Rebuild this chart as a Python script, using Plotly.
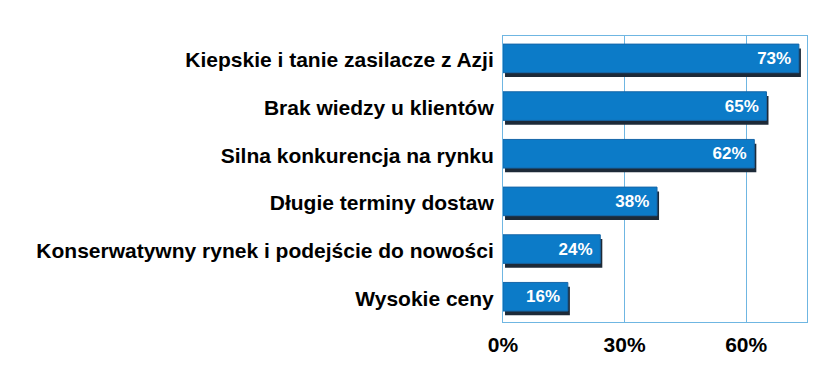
import plotly.graph_objects as go

categories = [
    "Kiepskie i tanie zasilacze z Azji",
    "Brak wiedzy u klientów",
    "Silna konkurencja na rynku",
    "Długie terminy dostaw",
    "Konserwatywny rynek i podejście do nowości",
    "Wysokie ceny",
]
values = [73, 65, 62, 38, 24, 16]
x_ticks = [0, 30, 60]
x_tick_labels = ["0%", "30%", "60%"]

FONT = "Liberation Sans, Arial, sans-serif"
GRID = "#6fb6e2"
BAR_W = 0.6

fig = go.Figure()
# dark 3D shadow under the bars
fig.add_trace(go.Bar(
    y=categories,
    x=values,
    base=0.5,
    orientation="h",
    width=BAR_W,
    offset=-BAR_W / 2 - 0.06,
    marker=dict(color="#1d2a38", line=dict(width=0)),
    hoverinfo="skip",
))
fig.add_trace(go.Bar(
    y=categories,
    x=values,
    orientation="h",
    width=BAR_W,
    offset=-BAR_W / 2 + 0.03,
    text=[f"{v}%\u00a0" for v in values],
    textposition="inside",
    insidetextanchor="end",
    textfont=dict(family=FONT, size=17, color="white", weight="bold"),
    marker=dict(color="#0c7bc8", line=dict(color="#1667a8", width=1)),
    hoverinfo="skip",
))

fig.update_layout(
    width=832, height=384,
    margin=dict(l=495, r=33, t=28, b=70),
    paper_bgcolor="white",
    plot_bgcolor="white",
    barmode="overlay",
    showlegend=False,
)
fig.update_xaxes(
    range=[0, 75],
    tickvals=x_ticks,
    ticktext=x_tick_labels,
    tickfont=dict(family=FONT, size=21, color="black", weight="bold"),
    showgrid=True, gridcolor=GRID, gridwidth=1,
    showline=True, linecolor=GRID, linewidth=1, mirror=True,
    zeroline=False,
    ticks="", ticklabelstandoff=4,
)
fig.update_yaxes(
    categoryorder="array", categoryarray=categories[::-1],
    tickfont=dict(family=FONT, size=21, color="black", weight="bold"),
    showgrid=False,
    showline=True, linecolor=GRID, linewidth=1, mirror=True,
    ticks="", ticklabelstandoff=4,
)

fig.write_html("out.html")
